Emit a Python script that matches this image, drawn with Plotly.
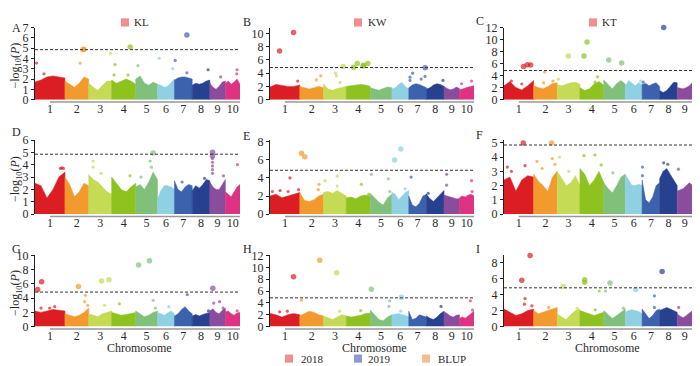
import plotly.graph_objects as go

W, H = 700, 366
FONT = "Liberation Serif, Times New Roman, serif"

CHROM_LEN = [307, 244, 235, 247, 223, 174, 182, 181, 159, 150]
CHROM_LABELS = ["1", "2", "3", "4", "5", "6", "7", "8", "9", "10"]
CHROM_COLORS = ["#dc1e24", "#f29a2e", "#c5da55", "#8dc21f", "#80c07a",
                "#8fd0e2", "#3c62ae", "#27408f", "#8a4c9c", "#de3382"]
THRESHOLD = 4.85
ENV_FRAC = [0.0, 0.2, 0.4, 0.6, 0.8, 1.0]

# Envelope (top of dense SNP cloud) per chromosome, and notable SNPs (chr, relative pos, -log10 P)
ENV_A = [[1.7, 1.9, 2.2, 2.3, 2.2, 2.1], [1.8, 1.5, 1.2, 1.6, 2.2, 2.0], [1.6, 1.2, 0.9, 1.4, 1.8, 1.8],
         [1.9, 1.6, 1.8, 2.0, 1.8, 1.5], [2.0, 2.3, 1.6, 1.4, 1.7, 1.5], [1.5, 1.4, 1.2, 1.3, 1.7, 2.0],
         [1.9, 2.1, 2.2, 2.2, 2.1, 2.0], [1.4, 1.6, 1.5, 1.6, 1.8, 1.9], [1.6, 1.2, 1.0, 1.3, 1.7, 1.8],
         [1.6, 1.8, 1.5, 1.7, 2.0, 1.5]]
HITS_A = [(1, 0.05, 3.55), (1, 0.3, 2.5), (2, 0.8, 4.88), (2, 0.76, 4.85), (2, 0.64, 3.55), (3, 0.95, 4.5),
          (4, 0.14, 3.4), (4, 0.1, 2.4), (4, 0.77, 5.1), (4, 0.68, 2.4), (5, 0.1, 3.3), (6, 0.1, 4.0),
          (6, 0.9, 3.0), (7, 0.04, 3.8), (7, 0.7, 6.27), (7, 0.7, 2.6), (8, 0.9, 2.9), (9, 0.7, 2.2),
          (10, 0.8, 2.9), (10, 0.78, 2.5)]

ENV_B = [[1.9, 2.3, 2.1, 2.0, 2.0, 2.2], [2.0, 1.8, 1.6, 1.8, 2.0, 1.8], [2.4, 1.6, 1.4, 1.7, 1.9, 2.0],
         [2.0, 2.1, 2.2, 2.3, 2.2, 2.0], [1.8, 1.6, 1.4, 1.7, 1.9, 1.8], [1.6, 1.8, 2.3, 2.6, 2.0, 1.6],
         [1.8, 2.2, 2.4, 2.3, 2.0, 1.8], [1.6, 1.8, 2.2, 2.4, 2.3, 2.0], [2.0, 1.7, 1.5, 1.6, 1.9, 1.7],
         [1.5, 1.6, 1.8, 1.9, 2.0, 2.1]]
HITS_B = [(1, 0.32, 7.34), (1, 0.79, 10.14), (1, 0.93, 2.8), (2, 0.7, 3.0), (2, 0.88, 3.6), (3, 0.53, 4.0),
          (3, 0.57, 3.6), (3, 0.73, 2.6), (3, 0.87, 5.0), (4, 0.31, 4.9), (4, 0.46, 5.45), (4, 0.7, 5.1),
          (4, 0.73, 5.2), (4, 0.9, 5.45), (7, 0.07, 3.4), (7, 0.22, 4.0), (7, 0.07, 2.9), (7, 0.7, 3.1),
          (7, 0.93, 4.8), (7, 0.92, 3.5), (8, 0.94, 2.9), (10, 0.15, 2.4), (10, 0.83, 2.8)]

ENV_C = [[2.3, 3.0, 2.0, 1.6, 2.3, 3.2], [2.3, 2.0, 1.8, 2.2, 2.7, 2.8], [2.5, 2.3, 2.6, 2.8, 2.9, 2.6],
         [2.0, 1.5, 1.8, 2.6, 3.0, 2.4], [3.3, 2.5, 1.8, 2.7, 3.2, 2.6], [2.3, 3.2, 2.7, 2.3, 2.8, 2.5],
         [2.5, 2.7, 2.3, 2.6, 2.8, 2.2], [1.5, 1.2, 1.5, 2.2, 2.9, 2.8], [2.0, 1.9, 1.8, 2.0, 2.3, 2.9],
         [2.7, 2.9, 2.6, 2.3, 2.5, 2.2]]
HITS_C = [(1, 0.66, 5.5), (1, 0.79, 5.8), (1, 0.9, 5.75), (1, 0.6, 2.6), (1, 0.25, 3.1), (2, 0.47, 4.6),
          (2, 0.42, 2.8), (2, 0.82, 3.1), (3, 0.49, 7.25), (3, 0.05, 3.4), (4, 0.17, 7.25), (4, 0.3, 9.6),
          (4, 0.74, 3.8), (4, 0.64, 2.9), (5, 0.23, 6.6), (5, 0.83, 6.1), (6, 0.9, 3.1), (7, 0.06, 2.9),
          (8, 0.23, 12.0), (10, 0.85, 5.7)]

ENV_D = [[2.5, 2.3, 1.3, 2.0, 3.0, 3.4], [3.0, 2.4, 1.4, 1.8, 2.5, 2.3], [3.2, 2.8, 2.6, 2.2, 1.8, 1.6],
         [3.0, 2.5, 2.0, 1.8, 2.2, 2.5], [2.2, 2.4, 2.0, 2.6, 3.4, 2.8], [1.2, 1.9, 2.3, 2.3, 2.2, 2.0],
         [2.7, 2.0, 1.8, 2.2, 2.4, 2.3], [1.9, 2.3, 2.1, 2.4, 2.8, 2.7], [2.6, 2.2, 2.0, 2.0, 2.4, 2.8],
         [1.8, 1.6, 1.4, 1.8, 2.2, 2.4]]
HITS_D = [(1, 0.85, 3.7), (1, 0.9, 3.75), (1, 0.95, 3.7), (3, 0.19, 4.3), (3, 0.19, 3.8), (3, 0.54, 3.3),
          (4, 0.76, 3.1), (5, 0.24, 3.0), (5, 0.66, 4.3), (5, 0.72, 3.8), (5, 0.8, 4.95), (7, 0.43, 2.6),
          (8, 0.7, 2.9), (9, 0.17, 5.0), (9, 0.17, 4.7), (9, 0.17, 4.5), (9, 0.17, 4.2), (9, 0.17, 3.9),
          (9, 0.17, 3.6), (9, 0.17, 3.3), (9, 0.88, 3.1), (10, 0.82, 4.0)]

ENV_E = [[2.0, 2.2, 1.8, 2.0, 2.2, 2.4], [2.4, 1.5, 1.4, 1.6, 2.0, 2.2], [2.4, 2.5, 2.3, 2.6, 2.3, 2.0],
         [1.8, 1.9, 1.7, 2.0, 2.1, 2.0], [2.3, 1.8, 1.3, 1.0, 1.8, 2.2], [2.4, 2.2, 1.6, 2.0, 2.4, 2.6],
         [2.0, 1.0, 0.8, 1.2, 2.0, 2.2], [2.2, 1.7, 1.4, 1.8, 2.2, 2.6], [2.1, 2.0, 1.9, 1.8, 1.7, 1.7],
         [1.8, 2.0, 1.9, 2.1, 2.2, 2.0]]
HITS_E = [(1, 0.08, 2.5), (1, 0.34, 2.6), (1, 0.61, 2.5), (1, 0.67, 4.0), (1, 0.96, 2.7), (2, 0.07, 6.75),
          (2, 0.21, 6.35), (2, 0.81, 3.3), (2, 0.78, 2.7), (3, 0.07, 3.7), (3, 0.6, 4.2), (3, 0.6, 3.1),
          (4, 0.63, 3.3), (4, 0.94, 2.2), (5, 0.05, 4.4), (5, 0.83, 3.9), (5, 0.9, 2.5), (6, 0.16, 6.0),
          (6, 0.53, 7.2), (6, 0.78, 2.8), (7, 0.13, 4.1), (8, 0.1, 2.3), (9, 0.17, 4.4), (9, 0.17, 3.2),
          (10, 0.83, 3.7), (10, 0.87, 2.5)]

ENV_F = [[2.4, 2.6, 1.6, 2.4, 2.7, 2.6], [2.8, 2.3, 2.0, 1.6, 2.6, 3.0], [3.0, 2.5, 2.0, 2.2, 2.7, 2.0],
         [3.2, 2.8, 2.0, 2.4, 3.0, 2.2], [2.2, 1.8, 1.5, 2.0, 2.6, 2.8], [2.8, 2.4, 2.0, 2.0, 2.1, 2.0],
         [2.4, 1.0, 0.8, 1.2, 2.0, 2.2], [2.5, 3.0, 3.2, 2.8, 2.4, 2.0], [1.6, 1.7, 1.8, 2.0, 2.2, 2.0],
         [1.4, 1.8, 2.0, 2.2, 2.6, 2.2]]
HITS_F = [(1, 0.11, 3.3), (1, 0.25, 3.0), (1, 0.65, 5.0), (1, 0.71, 3.4), (2, 0.14, 3.7), (2, 0.36, 3.2),
          (2, 0.76, 5.0), (2, 0.79, 3.9), (2, 0.9, 3.5), (3, 0.1, 4.0), (3, 0.51, 3.0), (4, 0.17, 4.1),
          (4, 0.63, 4.15), (4, 0.89, 3.45), (5, 0.42, 2.9), (7, 0.02, 3.3), (7, 0.02, 2.7), (8, 0.23, 3.6),
          (8, 0.46, 3.5), (9, 0.08, 3.15), (10, 0.83, 2.7)]

ENV_G = [[2.2, 2.0, 2.2, 2.4, 2.3, 2.2], [1.8, 1.6, 1.4, 1.6, 2.0, 2.6], [1.8, 1.6, 1.4, 1.8, 2.0, 2.2],
         [2.0, 1.8, 1.6, 1.7, 1.9, 2.0], [2.2, 1.8, 1.4, 1.6, 2.0, 2.2], [2.0, 1.8, 1.6, 1.9, 2.2, 1.8],
         [1.5, 1.8, 2.4, 2.8, 2.2, 1.8], [1.5, 1.7, 1.5, 1.7, 1.8, 2.0], [2.2, 2.5, 2.0, 1.8, 2.3, 2.6],
         [2.1, 2.2, 1.8, 1.6, 1.9, 2.0]]
HITS_G = [(1, 0.09, 5.2), (1, 0.22, 6.3), (1, 0.2, 2.6), (1, 0.49, 2.6), (1, 0.66, 2.8), (2, 0.57, 5.65),
          (2, 0.86, 4.4), (2, 0.83, 3.5), (2, 0.96, 3.0), (3, 0.56, 6.4), (3, 0.88, 6.6), (3, 0.69, 3.0),
          (4, 0.32, 3.2), (5, 0.13, 8.65), (5, 0.63, 9.25), (5, 0.8, 3.7), (5, 0.9, 2.6), (6, 0.67, 2.8),
          (7, 0.72, 4.5), (8, 0.92, 2.2), (9, 0.19, 5.4), (9, 0.25, 3.3), (9, 0.63, 3.5), (9, 0.85, 2.6),
          (10, 0.81, 2.2)]

ENV_H = [[2.2, 2.0, 1.6, 2.0, 2.2, 2.0], [1.8, 2.2, 2.6, 2.4, 2.0, 1.8], [1.8, 1.5, 1.2, 1.6, 2.0, 1.8],
         [1.8, 1.6, 1.7, 1.9, 2.2, 2.3], [2.8, 2.0, 1.2, 1.0, 1.6, 2.0], [2.0, 2.1, 2.2, 2.0, 1.9, 1.6],
         [2.6, 1.2, 1.4, 2.0, 1.8, 1.6], [1.8, 1.4, 1.2, 1.6, 2.2, 2.6], [2.5, 2.2, 1.8, 1.6, 1.9, 2.0],
         [1.4, 1.6, 1.4, 1.8, 2.2, 2.6]]
HITS_H = [(1, 0.32, 2.5), (1, 0.58, 2.6), (1, 0.79, 8.4), (2, 0.07, 4.45), (2, 0.84, 11.2), (3, 0.58, 9.1),
          (3, 0.71, 2.6), (4, 0.6, 2.7), (5, 0.05, 6.3), (5, 0.9, 4.35), (5, 0.86, 3.4), (6, 0.56, 4.95),
          (6, 0.52, 2.6), (8, 0.83, 3.4), (10, 0.75, 4.35), (10, 0.9, 2.8)]

ENV_I = [[2.2, 1.8, 1.4, 1.6, 2.0, 2.2], [2.0, 1.6, 1.8, 2.0, 2.2, 2.4], [1.6, 1.2, 0.9, 1.5, 2.0, 2.2],
         [2.0, 1.8, 1.6, 1.4, 1.6, 1.8], [2.0, 1.5, 1.0, 1.4, 1.8, 2.2], [1.8, 2.0, 2.1, 2.0, 1.9, 1.6],
         [2.2, 1.6, 1.0, 1.4, 2.0, 2.2], [2.0, 2.2, 2.4, 2.2, 2.0, 1.8], [1.6, 1.3, 1.1, 1.4, 1.7, 2.0],
         [2.0, 2.1, 2.0, 1.9, 1.8, 1.6]]
HITS_I = [(1, 0.6, 5.8), (1, 0.88, 8.9), (1, 0.71, 3.5), (1, 0.69, 2.8), (1, 0.94, 2.6), (2, 0.64, 2.4),
          (3, 0.26, 5.05), (3, 0.88, 2.3), (4, 0.2, 5.85), (4, 0.2, 5.55), (4, 0.81, 4.45), (4, 0.64, 2.1),
          (5, 0.08, 4.45), (5, 0.29, 5.45), (5, 0.91, 2.3), (6, 0.62, 4.65), (7, 0.7, 3.85), (7, 0.7, 2.4),
          (8, 0.14, 6.9), (9, 0.1, 2.4), (10, 0.1, 2.75)]

PANELS = [
    ("A", ENV_A, HITS_A, 7.0, 1), ("B", ENV_B, HITS_B, 10.9, 2), ("C", ENV_C, HITS_C, 12.0, 2),
    ("D", ENV_D, HITS_D, 6.0, 1), ("E", ENV_E, HITS_E, 8.2, 2), ("F", ENV_F, HITS_F, 5.2, 1),
    ("G", ENV_G, HITS_G, 10.0, 2), ("H", ENV_H, HITS_H, 12.0, 2), ("I", ENV_I, HITS_I, 8.9, 2),
]
Y_TITLE = "−log<sub>10</sub>(<i>P</i>)"
X_TITLE = "Chromosome"
TRAIT_LEGEND = [("KL", 113, 124), ("KW", 346, 358), ("KT", 581, 592)]
YEAR_LEGEND = [("2018", "#f08f8f", 277, 291), ("2019", "#8e9ad8", 346, 358), ("BLUP", "#f5bd90", 414, 428)]
TRAIT_COLOR = "#f08f8f"

COLS_PX = [(27, 232), (262, 466), (496, 699)]
ROWS_PX = [(88, 13), (207, 130), (324, 250)]
LETTER_POS = [(2, 13), (233, 7), (466, 6), (2, 122), (233, 126), (466, 125), (2, 243), (233, 243), (466, 243)]
TEXT_COLOR = "#2a2a2a"


def px(x):
    return x / W


def py(y):
    return 1 - y / H


starts = []
acc = 0
for L in CHROM_LEN:
    starts.append(acc)
    acc += L
TOTAL = acc
centers = [s + L / 2 for s, L in zip(starts, CHROM_LEN)]

fig = go.Figure()
shapes = []
annotations = []

for i, (letter, env, hits, ymax, dtick) in enumerate(PANELS):
    r, c = divmod(i, 3)
    n = "" if i == 0 else str(i + 1)
    xa, ya = "x" + n, "y" + n
    # dense clouds
    for k in range(10):
        xs = [starts[k]] + [starts[k] + f * CHROM_LEN[k] for f in ENV_FRAC] + [starts[k] + CHROM_LEN[k]]
        ys = [0] + env[k] + [0]
        fig.add_trace(go.Scatter(x=xs, y=ys, mode="lines", fill="toself", fillcolor=CHROM_COLORS[k],
                                 line=dict(width=0.5, color=CHROM_COLORS[k]), xaxis=xa, yaxis=ya,
                                 hoverinfo="skip", showlegend=False))
    # SNP points
    hx = [starts[ch - 1] + p * CHROM_LEN[ch - 1] for ch, p, v in hits]
    hy = [v for ch, p, v in hits]
    hc = [CHROM_COLORS[ch - 1] for ch, p, v in hits]
    hs = [5.5 if v >= THRESHOLD - 0.2 else 3.2 for v in hy]
    fig.add_trace(go.Scatter(x=hx, y=hy, mode="markers", marker=dict(color=hc, size=hs, line=dict(width=0)),
                             xaxis=xa, yaxis=ya, cliponaxis=False, showlegend=False))
    x0p, x1p = COLS_PX[c]
    yb, yt = ROWS_PX[r]
    fig.layout["xaxis" + n] = dict(domain=[px(x0p), px(x1p)], range=[0, TOTAL], anchor=ya,
                                   showline=False, showgrid=False, zeroline=False, ticks="",
                                   tickvals=centers, ticktext=CHROM_LABELS,
                                   tickfont=dict(family=FONT, size=12, color=TEXT_COLOR))
    fig.layout["yaxis" + n] = dict(domain=[py(yb), py(yt)], range=[0, ymax], anchor=xa,
                                   showline=True, linecolor="#222", linewidth=1, ticks="outside",
                                   ticklen=3, tickcolor="#222", dtick=dtick, showgrid=False,
                                   zeroline=False, tickfont=dict(family=FONT, size=12, color=TEXT_COLOR))
    shapes.append(dict(type="line", xref=xa, yref=ya, x0=0, x1=TOTAL, y0=THRESHOLD, y1=THRESHOLD,
                       line=dict(color="#333", width=1, dash="3px,2px")))
    shapes.append(dict(type="line", xref=xa, yref="paper", x0=centers[0], x1=TOTAL,
                       y0=py(yb + 2.5), y1=py(yb + 2.5), line=dict(color="#999", width=1.5)))
    lx, ly = LETTER_POS[i]
    annotations.append(dict(text=letter, x=px(lx), y=py(ly), xref="paper", yref="paper",
                            xanchor="left", yanchor="middle", showarrow=False,
                            font=dict(family=FONT, size=12, color=TEXT_COLOR)))

for r, (yb, yt) in enumerate(ROWS_PX):
    annotations.append(dict(text=Y_TITLE, x=px(8), y=py((yb + yt) / 2 + 2),
                            xref="paper", yref="paper", textangle=-90, showarrow=False,
                            xanchor="center", yanchor="middle",
                            font=dict(family=FONT, size=12, color=TEXT_COLOR)))

for (x0p, x1p) in COLS_PX:
    annotations.append(dict(text=X_TITLE, x=px((x0p + x1p) / 2 + 2), y=py(346), xref="paper", yref="paper",
                            showarrow=False, xanchor="center", yanchor="middle",
                            font=dict(family=FONT, size=12, color=TEXT_COLOR)))

for label, sx, tx in TRAIT_LEGEND:
    shapes.append(dict(type="rect", xref="paper", yref="paper", x0=px(sx), x1=px(sx + 8),
                       y0=py(12), y1=py(3.5), fillcolor=TRAIT_COLOR, line=dict(width=0)))
    annotations.append(dict(text=label, x=px(tx), y=py(7.5), xref="paper", yref="paper", showarrow=False,
                            xanchor="left", yanchor="middle", font=dict(family=FONT, size=11, color=TEXT_COLOR)))

for label, col, sx, tx in YEAR_LEGEND:
    shapes.append(dict(type="rect", xref="paper", yref="paper", x0=px(sx), x1=px(sx + 8),
                       y0=py(361.5), y1=py(353), fillcolor=col, line=dict(width=0)))
    annotations.append(dict(text=label, x=px(tx), y=py(357.5), xref="paper", yref="paper", showarrow=False,
                            xanchor="left", yanchor="middle", font=dict(family=FONT, size=11, color=TEXT_COLOR)))

fig.update_layout(width=W, height=H, margin=dict(l=0, r=0, t=0, b=0), paper_bgcolor="white",
                  plot_bgcolor="white", shapes=shapes, annotations=annotations, showlegend=False,
                  font=dict(family=FONT))
fig.write_html("out.html", config={"displayModeBar": False})
